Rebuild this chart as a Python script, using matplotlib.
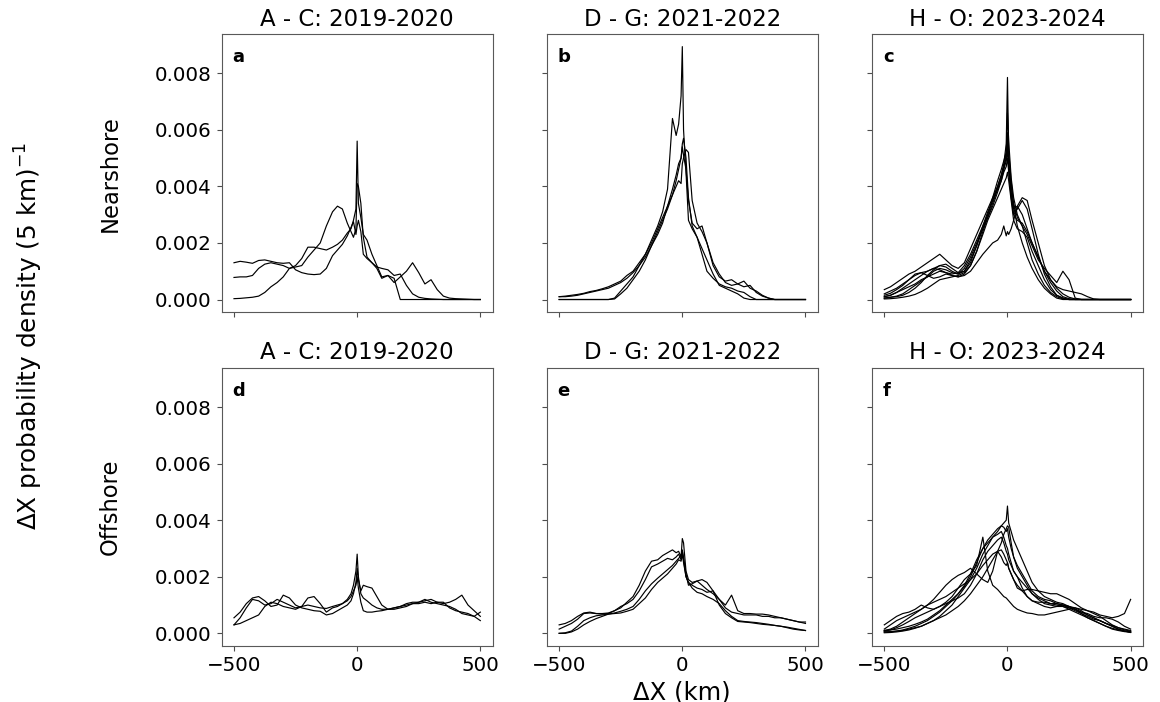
import numpy as np
import matplotlib.pyplot as plt
from matplotlib.ticker import FormatStrFormatter

# Along-track displacement bins (km); finer spacing around zero
dx_km = [-500, -475, -450, -425, -400, -375, -350, -325, -300, -275, -250, -225, -200,
         -175, -150, -125, -100,
         -80, -60, -40, -25, -15, -5, 0, 5, 15, 25, 40, 60, 80,
         100, 125, 150, 175, 200, 225, 250, 275, 300, 325, 350, 375, 400,
         425, 450, 475, 500]

# Probability densities, in units of 1e-3 (5 km)^-1; one list per season
near_ac = [
    [1.30, 1.35, 1.32, 1.28, 1.38, 1.40, 1.35, 1.30, 1.28, 1.30, 1.05, 0.95, 0.90, 0.88, 0.90, 1.10, 1.55,
     1.75, 1.95, 2.25, 2.55, 2.75, 2.30, 2.60, 2.80, 2.40, 1.60, 1.45, 1.30, 1.15,
     1.10, 1.05, 0.85, 0.90, 0.50, 0.20, 0.08, 0.04, 0.02, 0.01, 0.0, 0.0, 0.0, 0.0, 0.0, 0.0, 0.0],
    [0.78, 0.80, 0.80, 0.85, 1.10, 1.25, 1.30, 1.25, 1.20, 1.10, 1.20, 1.45, 1.85, 1.85, 1.80, 1.75, 1.85,
     1.95, 2.10, 2.35, 2.50, 2.80, 3.20, 5.60, 3.40, 2.90, 2.30, 2.10, 1.60, 1.20,
     0.80, 0.85, 0.75, 0.0, 0.0, 0.0, 0.0, 0.0, 0.0, 0.0, 0.0, 0.0, 0.0, 0.0, 0.0, 0.0, 0.0],
    [0.03, 0.04, 0.06, 0.08, 0.12, 0.25, 0.45, 0.60, 0.80, 1.10, 1.15, 1.20, 1.50, 1.75, 2.00, 2.60, 3.10,
     3.30, 3.20, 2.70, 2.40, 2.20, 2.50, 4.10, 4.00, 3.40, 2.20, 1.50, 1.30, 1.10,
     0.75, 0.85, 0.60, 0.80, 1.00, 1.30, 0.95, 0.55, 0.70, 0.35, 0.12, 0.05, 0.03, 0.02, 0.01, 0.0, 0.0],
]

near_dg = [
    [0.10, 0.12, 0.15, 0.18, 0.22, 0.28, 0.32, 0.38, 0.45, 0.55, 0.65, 0.85, 1.00, 1.30, 1.60, 2.10, 2.60,
     3.10, 3.90, 6.40, 5.80, 6.20, 7.20, 8.94, 6.00, 4.50, 2.80, 2.50, 2.20, 1.60,
     1.00, 0.75, 0.55, 0.45, 0.40, 0.30, 0.25, 0.10, 0.0, 0.0, 0.0, 0.0, 0.0, 0.0, 0.0, 0.0, 0.0],
    [0.10, 0.10, 0.12, 0.15, 0.20, 0.25, 0.30, 0.35, 0.40, 0.50, 0.60, 0.75, 0.95, 1.20, 1.50, 1.90, 2.30,
     2.70, 3.30, 3.90, 4.40, 4.80, 5.00, 5.40, 5.10, 4.60, 3.50, 2.70, 2.50, 2.60,
     2.00, 1.30, 0.90, 0.60, 0.50, 0.55, 0.65, 0.40, 0.30, 0.15, 0.05, 0.0, 0.0, 0.0, 0.0, 0.0, 0.0],
    [0.0, 0.0, 0.0, 0.0, 0.0, 0.0, 0.0, 0.0, 0.0, 0.05, 0.30, 0.55, 0.80, 1.20, 1.60, 2.00, 2.50,
     2.90, 3.30, 3.70, 4.00, 4.20, 4.10, 4.80, 5.00, 5.30, 5.20, 3.50, 2.70, 2.40,
     2.00, 1.20, 0.80, 0.65, 0.70, 0.55, 0.45, 0.50, 0.25, 0.12, 0.05, 0.0, 0.0, 0.0, 0.0, 0.0, 0.0],
    [0.0, 0.0, 0.0, 0.0, 0.0, 0.0, 0.0, 0.0, 0.0, 0.02, 0.20, 0.40, 0.70, 1.00, 1.40, 1.90, 2.40,
     2.80, 3.20, 3.70, 4.20, 4.60, 5.00, 5.50, 5.70, 5.00, 3.60, 2.60, 2.20, 1.80,
     1.40, 0.90, 0.50, 0.40, 0.30, 0.20, 0.05, 0.0, 0.0, 0.0, 0.0, 0.0, 0.0, 0.0, 0.0, 0.0, 0.0],
]

near_ho = [
    [0.10, 0.15, 0.25, 0.35, 0.45, 0.55, 0.70, 0.80, 0.90, 1.00, 0.95, 0.90, 0.95, 1.20, 1.60, 2.10, 2.60,
     3.00, 3.50, 4.00, 4.40, 4.80, 5.50, 7.85, 5.20, 4.20, 3.30, 2.60, 2.00, 1.50,
     1.10, 0.70, 0.40, 0.20, 0.05, 0.0, 0.0, 0.0, 0.0, 0.0, 0.0, 0.0, 0.0, 0.0, 0.0, 0.0, 0.0],
    [0.05, 0.08, 0.12, 0.20, 0.35, 0.50, 0.65, 0.80, 1.00, 1.10, 1.05, 0.95, 0.90, 1.10, 1.50, 2.00, 2.50,
     2.90, 3.30, 3.80, 4.20, 4.60, 5.20, 6.60, 5.60, 4.30, 3.60, 3.00, 2.60, 2.00,
     1.40, 0.90, 0.50, 0.25, 0.10, 0.02, 0.0, 0.0, 0.0, 0.0, 0.0, 0.0, 0.0, 0.0, 0.0, 0.0, 0.0],
    [0.20, 0.30, 0.40, 0.55, 0.70, 0.85, 0.95, 1.00, 1.10, 1.20, 1.15, 1.00, 0.90, 1.00, 1.40, 1.90, 2.50,
     3.00, 3.60, 4.20, 4.60, 4.90, 5.20, 5.90, 4.80, 3.80, 3.00, 3.20, 3.50, 3.20,
     2.50, 1.60, 0.90, 0.45, 0.15, 0.05, 0.0, 0.0, 0.0, 0.0, 0.0, 0.0, 0.0, 0.0, 0.0, 0.0, 0.0],
    [0.35, 0.45, 0.60, 0.75, 0.90, 1.00, 1.15, 1.30, 1.45, 1.60, 1.40, 1.20, 1.10, 1.30, 1.80, 2.30, 2.80,
     3.20, 3.60, 4.00, 4.40, 4.70, 5.00, 5.50, 4.60, 3.70, 3.20, 3.30, 3.60, 3.50,
     2.80, 2.00, 1.20, 0.70, 0.40, 0.20, 0.08, 0.02, 0.0, 0.0, 0.0, 0.0, 0.0, 0.0, 0.0, 0.0, 0.0],
    [0.10, 0.15, 0.25, 0.40, 0.55, 0.70, 0.85, 1.00, 1.10, 1.05, 0.95, 0.85, 0.80, 0.85, 1.00, 1.30, 1.60,
     1.80, 2.00, 2.10, 2.30, 2.60, 2.25, 2.40, 2.30, 2.50, 2.80, 3.30, 3.00, 2.50,
     2.00, 1.50, 1.00, 0.60, 0.30, 0.10, 0.03, 0.0, 0.0, 0.0, 0.0, 0.0, 0.0, 0.0, 0.0, 0.0, 0.0],
    [0.05, 0.08, 0.10, 0.15, 0.25, 0.40, 0.60, 0.85, 1.05, 1.20, 1.25, 1.10, 0.95, 1.00, 1.30, 1.90, 2.60,
     3.10, 3.50, 3.90, 4.30, 4.60, 4.90, 5.20, 4.90, 4.00, 3.40, 2.90, 2.60, 2.30,
     1.90, 1.40, 1.10, 0.85, 0.60, 1.00, 0.70, 0.05, 0.0, 0.0, 0.0, 0.0, 0.0, 0.0, 0.0, 0.0, 0.0],
    [0.02, 0.03, 0.05, 0.08, 0.12, 0.18, 0.28, 0.40, 0.55, 0.70, 0.75, 0.80, 0.85, 0.95, 1.20, 1.70, 2.40,
     2.90, 3.40, 3.90, 4.20, 4.50, 4.70, 5.00, 4.50, 3.60, 3.00, 2.80, 2.70, 2.40,
     2.00, 1.50, 1.00, 0.70, 0.45, 0.35, 0.30, 0.25, 0.20, 0.10, 0.02, 0.0, 0.0, 0.0, 0.0, 0.0, 0.0],
    [0.15, 0.22, 0.35, 0.50, 0.70, 0.90, 0.95, 0.85, 0.75, 0.80, 0.90, 0.85, 0.80, 0.90, 1.20, 1.70, 2.30,
     2.80, 3.20, 3.60, 3.90, 4.10, 4.30, 4.50, 4.20, 3.50, 2.80, 2.50, 2.40, 2.20,
     1.70, 1.20, 0.70, 0.35, 0.15, 0.05, 0.0, 0.0, 0.0, 0.0, 0.0, 0.0, 0.0, 0.0, 0.0, 0.0, 0.0],
]

off_ac = [
    [0.30, 0.55, 0.90, 1.20, 1.15, 1.00, 1.05, 1.20, 1.10, 1.00, 0.90, 0.95, 1.25, 1.30, 1.05, 0.75, 0.90,
     0.95, 1.05, 1.20, 1.40, 1.70, 2.20, 2.80, 2.00, 1.40, 1.25, 1.15, 1.00, 0.90,
     0.85, 0.85, 0.90, 0.95, 1.05, 1.10, 1.10, 1.15, 1.20, 1.10, 1.05, 1.10, 1.20, 1.35, 1.00, 0.80, 0.60],
    [0.55, 0.75, 1.05, 1.25, 1.30, 1.15, 0.95, 1.00, 1.35, 1.25, 1.00, 0.90, 0.85, 0.80, 0.78, 0.65, 0.70,
     0.80, 0.90, 1.00, 1.15, 1.40, 1.80, 2.30, 1.90, 1.50, 1.70, 1.65, 1.60, 1.30,
     1.00, 0.85, 0.85, 0.90, 0.95, 1.05, 1.10, 1.20, 1.10, 1.05, 1.00, 0.95, 0.85, 0.70, 0.65, 0.60, 0.75],
    [0.30, 0.35, 0.45, 0.55, 0.65, 0.95, 1.10, 1.05, 0.95, 0.90, 0.85, 0.95, 1.00, 0.95, 0.90, 0.88, 0.95,
     1.00, 1.05, 1.15, 1.30, 1.50, 1.70, 2.00, 1.60, 1.10, 0.80, 0.75, 0.75, 0.78,
     0.80, 0.85, 0.90, 0.95, 1.00, 1.05, 1.05, 1.10, 1.05, 1.10, 1.10, 0.90, 0.80, 0.75, 0.70, 0.60, 0.45],
]

off_dg = [
    [0.30, 0.35, 0.45, 0.60, 0.72, 0.75, 0.70, 0.70, 0.72, 0.80, 0.90, 1.10, 1.30, 1.70, 2.20, 2.55, 2.60,
     2.75, 2.85, 2.95, 2.85, 2.90, 2.70, 3.35, 3.20, 2.20, 1.90, 1.80, 1.85, 1.70,
     1.55, 1.40, 1.20, 0.90, 0.75, 0.70, 0.65, 0.65, 0.65, 0.60, 0.60, 0.55, 0.55, 0.50, 0.45, 0.40, 0.35],
    [0.15, 0.25, 0.35, 0.50, 0.70, 0.72, 0.70, 0.68, 0.70, 0.80, 0.95, 1.05, 1.20, 1.50, 1.90, 2.35, 2.45,
     2.55, 2.65, 2.60, 2.70, 2.80, 2.60, 2.95, 2.60, 2.00, 1.80, 1.70, 1.60, 1.55,
     1.45, 1.50, 1.20, 1.00, 1.35, 0.80, 0.70, 0.70, 0.68, 0.68, 0.65, 0.60, 0.55, 0.50, 0.45, 0.40, 0.40],
    [0.00, 0.00, 0.05, 0.15, 0.30, 0.42, 0.52, 0.60, 0.68, 0.72, 0.78, 0.85, 0.95, 1.20, 1.50, 1.75, 1.95,
     2.10, 2.25, 2.40, 2.55, 2.65, 2.75, 2.90, 2.70, 2.10, 1.70, 1.75, 1.85, 1.90,
     1.80, 1.50, 1.00, 0.70, 0.55, 0.42, 0.40, 0.38, 0.35, 0.32, 0.30, 0.28, 0.25, 0.20, 0.15, 0.12, 0.10],
    [0.00, 0.02, 0.08, 0.25, 0.45, 0.55, 0.62, 0.65, 0.68, 0.70, 0.72, 0.78, 0.85, 1.05, 1.25, 1.55, 1.80,
     1.95, 2.10, 2.30, 2.45, 2.60, 2.55, 2.80, 2.50, 2.00, 1.80, 1.60, 1.45, 1.40,
     1.30, 1.20, 1.05, 0.80, 0.60, 0.45, 0.42, 0.40, 0.38, 0.35, 0.32, 0.28, 0.25, 0.22, 0.18, 0.14, 0.10],
]

off_ho = [
    [0.05, 0.05, 0.08, 0.10, 0.15, 0.20, 0.25, 0.35, 0.45, 0.60, 0.80, 1.00, 1.30, 1.60, 1.90, 2.30, 2.80,
     3.10, 3.40, 3.60, 3.80, 3.90, 4.00, 4.50, 3.90, 3.60, 3.30, 3.00, 2.60, 2.20,
     1.80, 1.50, 1.30, 1.20, 1.10, 1.05, 0.95, 0.85, 0.70, 0.60, 0.50, 0.45, 0.35, 0.25, 0.15, 0.08, 0.05],
    [0.10, 0.12, 0.15, 0.20, 0.25, 0.32, 0.40, 0.50, 0.65, 0.80, 1.00, 1.20, 1.40, 1.65, 2.00, 2.50, 3.00,
     3.30, 3.50, 3.70, 3.80, 3.75, 3.60, 3.70, 3.40, 3.00, 2.70, 2.40, 2.10, 1.80,
     1.50, 1.30, 1.20, 1.15, 1.05, 1.00, 0.90, 0.80, 0.70, 0.55, 0.45, 0.35, 0.25, 0.18, 0.12, 0.08, 0.05],
    [0.30, 0.45, 0.60, 0.70, 0.75, 0.85, 1.00, 0.90, 0.85, 0.95, 1.10, 1.30, 1.60, 1.90, 2.10, 2.40, 3.40,
     2.20, 1.70, 1.55, 1.40, 1.30, 1.25, 1.20, 1.15, 1.05, 0.95, 0.85, 0.78, 0.72,
     0.70, 0.65, 0.65, 0.70, 0.75, 0.80, 0.85, 0.90, 0.85, 0.80, 0.75, 0.65, 0.60, 0.55, 0.60, 0.70, 1.20],
    [0.15, 0.30, 0.45, 0.55, 0.65, 0.75, 0.85, 1.00, 1.20, 1.45, 1.70, 1.90, 2.05, 2.15, 2.30, 2.10, 1.90,
     1.80, 2.20, 2.90, 2.70, 2.50, 2.40, 2.50, 2.30, 2.10, 1.90, 1.60, 1.50, 1.55,
     1.55, 1.50, 1.45, 1.40, 1.40, 1.30, 1.20, 1.05, 0.90, 0.80, 0.70, 0.60, 0.45, 0.30, 0.20, 0.12, 0.08],
    [0.05, 0.06, 0.08, 0.12, 0.18, 0.25, 0.35, 0.45, 0.60, 0.75, 0.95, 1.15, 1.40, 1.70, 2.10, 2.60, 3.00,
     3.20, 3.40, 3.50, 3.60, 3.40, 3.10, 3.00, 2.80, 2.50, 2.20, 2.00, 1.80, 1.60,
     1.40, 1.25, 1.15, 1.05, 1.00, 0.95, 0.85, 0.75, 0.65, 0.55, 0.45, 0.35, 0.25, 0.15, 0.10, 0.06, 0.04],
    [0.08, 0.12, 0.20, 0.30, 0.42, 0.55, 0.65, 0.75, 0.85, 0.95, 1.05, 1.15, 1.25, 1.40, 1.70, 2.10, 2.60,
     2.90, 3.10, 3.30, 3.40, 3.20, 2.90, 2.80, 2.60, 2.40, 2.20, 2.00, 1.60, 1.30,
     1.15, 1.10, 1.10, 1.05, 1.05, 1.00, 0.95, 0.90, 0.80, 0.65, 0.55, 0.45, 0.35, 0.28, 0.20, 0.15, 0.10],
    [0.10, 0.15, 0.25, 0.40, 0.55, 0.70, 0.85, 1.00, 1.10, 1.20, 1.30, 1.45, 1.60, 1.75, 1.90, 2.10, 2.40,
     2.60, 2.80, 2.90, 2.95, 2.80, 2.60, 2.50, 2.30, 2.10, 1.90, 1.70, 1.50, 1.30,
     1.15, 1.05, 0.95, 0.90, 0.95, 1.00, 0.95, 0.85, 0.75, 0.70, 0.60, 0.55, 0.55, 0.50, 0.40, 0.25, 0.15],
    [0.02, 0.03, 0.05, 0.08, 0.12, 0.18, 0.25, 0.35, 0.45, 0.55, 0.65, 0.80, 0.95, 1.15, 1.40, 1.70, 2.00,
     2.30, 2.60, 2.90, 3.20, 3.50, 3.70, 3.80, 3.75, 3.20, 2.70, 2.30, 2.00, 1.70,
     1.40, 1.20, 1.05, 1.00, 0.95, 0.95, 0.90, 0.85, 0.75, 0.65, 0.55, 0.45, 0.35, 0.25, 0.15, 0.08, 0.03],
]

season_titles = ['A - C: 2019-2020', 'D - G: 2021-2022', 'H - O: 2023-2024']
row_names = ['Nearshore', 'Offshore']
panel_letters = ['a', 'b', 'c', 'd', 'e', 'f']

panels = [[near_ac, near_dg, near_ho], [off_ac, off_dg, off_ho]]

fig, axes = plt.subplots(2, 3, figsize=(11.6, 7.02), dpi=100, sharex=True, sharey=True)
fig.subplots_adjust(left=0.1911, right=0.9853, top=0.9516, bottom=0.0798,
                    wspace=0.2, hspace=0.2)

x = np.array(dx_km)
for r in range(2):
    for c in range(3):
        ax = axes[r, c]
        for curve in panels[r][c]:
            ax.plot(x, np.array(curve) * 1e-3, color='black', linewidth=0.85)
        ax.set_title(season_titles[c], fontsize=16.5)
        ax.text(0.04, 0.95, panel_letters[r * 3 + c], transform=ax.transAxes,
                fontsize=13, fontweight='bold', va='top', ha='left')
        ax.tick_params(labelsize=14.3, color='0.3', labelcolor='black')
        for spine in ax.spines.values():
            spine.set_edgecolor('0.35')

axes[0, 0].set_xticks([-500, 0, 500])
axes[0, 0].set_yticks([0, 0.002, 0.004, 0.006, 0.008])
axes[0, 0].yaxis.set_major_formatter(FormatStrFormatter('%.3f'))

axes[1, 1].set_xlabel('ΔX (km)', fontsize=17.5)

# Row labels and shared y label
fig.text(0.095, 0.7528, row_names[0], rotation=90, ha='center', va='center', fontsize=16.3)
fig.text(0.095, 0.2778, row_names[1], rotation=90, ha='center', va='center', fontsize=16.3)
fig.text(0.025, 0.521, 'ΔX probability density (5 km)$^{-1}$', rotation=90,
         ha='center', va='center', fontsize=17.8)

fig.savefig('out.png', dpi=100)
